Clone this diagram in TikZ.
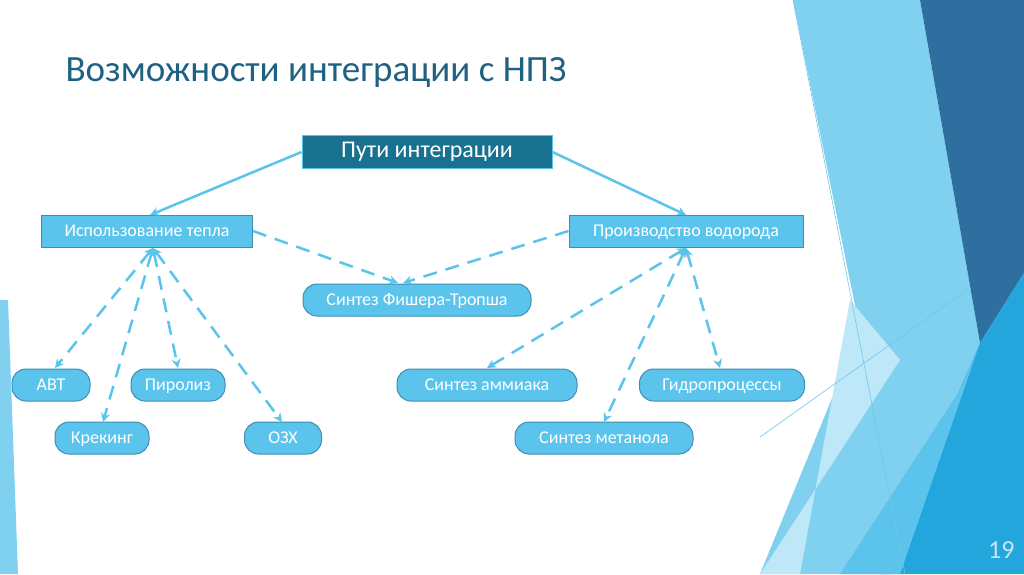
\documentclass[tikz,border=0pt]{standalone}
\usepackage{fontspec}
\setmainfont{Carlito}
\usetikzlibrary{arrows.meta}
\definecolor{nfill}{HTML}{5BC4EC}
\definecolor{nline}{HTML}{3F8DB2}
\definecolor{topfill}{HTML}{17718F}
\definecolor{titlec}{HTML}{1F6182}
\definecolor{arr}{HTML}{5BC4EC}
\tikzset{
 rect/.style={draw=nline,fill=nfill,line width=1pt,text=white,font=\fontsize{18}{18}\selectfont,inner sep=0pt,minimum height=32pt,text height=1.2em,text depth=0.12em},
 pill/.style={rect,rounded corners=14pt},
 solidarr/.style={draw=arr,line width=2.5pt,-{Stealth[length=9pt,width=9pt]}},
 dasharr/.style={draw=arr,line width=2.5pt,dash pattern=on 14pt off 9pt,-{Stealth[length=9pt,width=9pt]}},
 dashboth/.style={dasharr,{Stealth[length=9pt,width=9pt]}-{Stealth[length=9pt,width=9pt]}}
}
\begin{document}
\begin{tikzpicture}[x=1pt,y=-1pt]
\useasboundingbox (0,0) rectangle (1024,574);
\fill[white] (0,0) rectangle (1024,574);
% background shapes
\fill[color={rgb,255:red,128;green,208;blue,240}] (793,0)--(920,0)--(980,343)--(890,574)--(760,574)--(860,330)--cycle;
\fill[color={rgb,255:red,190;green,232;blue,248}] (850,300)--(900,360)--(760,574)--(800,574)--cycle;
\fill[color={rgb,255:red,46;green,111;blue,160}] (920,0)--(1024,0)--(1024,273)--(980,343)--cycle;
\fill[color={rgb,255:red,35;green,166;blue,220}] (1024,273)--(1024,574)--(880,574)--(980,343)--cycle;
\fill[color={rgb,255:red,92;green,196;blue,236}] (960,390)--(980,343)--(900,574)--(840,574)--cycle;
\fill[color={rgb,255:red,128;green,208;blue,240}] (0,300)--(8,300)--(18,574)--(0,574)--cycle;
\draw[color={rgb,255:red,110;green,200;blue,236},line width=0.6pt] (793,0)--(905,574);
\draw[color={rgb,255:red,110;green,200;blue,236},line width=0.6pt] (760,437)--(967,290);
\node[anchor=west,text=titlec,font=\fontsize{37}{37}\selectfont] (title) at (62,73) {Возможности интеграции с НПЗ};
\node[anchor=east,text={rgb,255:red,200;green,230;blue,242},font=\fontsize{26}{26}\selectfont] (pg) at (1018,550) {19};
% nodes
\node[rect,fill=topfill,draw=nfill,minimum width=250pt,minimum height=33pt,font=\fontsize{24}{24}\selectfont] (top) at (427,152) {Пути интеграции};
\node[rect,minimum width=211pt] (heat) at (147,231) {Использование тепла};
\node[rect,minimum width=234pt] (hyd) at (686,231) {Производство водорода};
\node[pill,minimum width=228pt] (ft) at (417,300) {Синтез Фишера-Тропша};
\node[pill,minimum width=78pt] (avt) at (51,385) {АВТ};
\node[pill,minimum width=94pt] (pir) at (178,385) {Пиролиз};
\node[pill,minimum width=94pt] (kr) at (102,438) {Крекинг};
\node[pill,minimum width=77pt] (ozh) at (283,438) {ОЗХ};
\node[pill,minimum width=180pt] (amm) at (487,385) {Синтез аммиака};
\node[pill,minimum width=165pt] (gid) at (722,385) {Гидропроцессы};
\node[pill,minimum width=178pt] (met) at (604,438) {Синтез метанола};
% connectors
\coordinate (hb) at (153,248);
\coordinate (yb) at (686,248);
\draw[solidarr] (top.west) -- (150,215);
\draw[solidarr] (top.east) -- (686,215);
\draw[dasharr] (heat.east) -- (398,283);
\draw[dasharr] (hyd.west) -- (403,283);
\draw[dashboth] (hb) -- (55,368);
\draw[dashboth] (hb) -- (103,422);
\draw[dashboth] (hb) -- (178,368);
\draw[dashboth] (hb) -- (282,422);
\draw[dashboth] (yb) -- (487,368);
\draw[dashboth] (yb) -- (604,422);
\draw[dashboth] (yb) -- (720,368);
\end{tikzpicture}
\end{document}
